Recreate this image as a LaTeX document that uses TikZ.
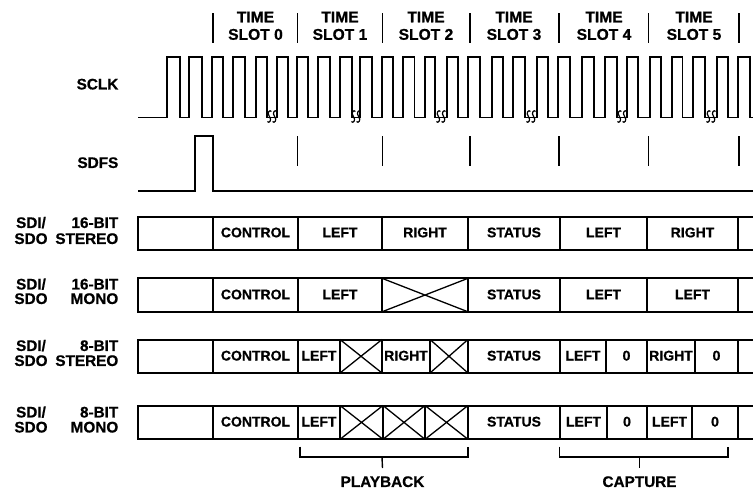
\documentclass[tikz,border=0pt]{standalone}
\usepackage{fontspec}
\setmainfont{Liberation Sans}[BoldFeatures={FakeBold=0.7}]
\begin{document}
\begin{tikzpicture}[x=1pt,y=-1pt,
  wave/.style={line width=1.8pt,line join=miter},
  frame/.style={line width=2pt,line join=miter},
  cross/.style={line width=1.3pt},
  tickln/.style={line width=1.5pt},
  brk/.style={line width=1.2pt},
  brace/.style={line width=1.4pt},
  lbl/.style={font=\fontsize{15.3}{17}\selectfont\bfseries,inner sep=0pt,text height=10.9pt,text depth=0pt},
  hdr/.style={font=\fontsize{15.6}{17}\selectfont\bfseries,inner sep=0pt,text height=11.2pt,text depth=0pt},
  boxtxt/.style={font=\fontsize{14}{16}\selectfont\bfseries,inner sep=0pt,text height=10pt,text depth=0pt},
  brkmark/.pic={
    \foreach \d in {-2.6,2.6}{
      \draw[brk] (\d+2,-5) .. controls (\d+0.5,-7.5) and (\d-3,-3.5) .. (\d,0)
                 .. controls (\d+3,3.5) and (\d-0.5,7.5) .. (\d-2,5);
    }
  }]
\useasboundingbox (0,0) rectangle (753,491);

% ---------- header ----------
\foreach \x in {213,297.5,382.5,470,559,648.5,739}
  \draw[tickln] (\x,13) -- (\x,43);
\foreach \i/\c in {0/255.5,1/340,2/426,3/514,4/604,5/694}{
  \node[hdr] (time\i) at (\c,16.7) {TIME};
  \node[hdr] (slot\i) at (\c,34.2) {SLOT \i};
}

% ---------- SCLK ----------
\node[lbl,anchor=east] (sclk) at (118.5,84) {SCLK};
\draw[wave] (138,117.5)
  \foreach \r/\f in {166.7/180,189.3/201.7,211.7/223.3,233.3/245,256/266.7,
                     276.7/288,296.7/308,318.3/330,340/351.7,360/371.7,
                     381.7/393.3,403.3/414.5,425/435,446.7/458.3,468.3/480,
                     491.7/503.3,513.3/525,536.7/548.3,558.3/570,581.7/594,
                     605/616.7,626.7/638.3,650/661,671.7/682.5,693.3/705,
                     716.7/728.3,738.3/750}
  { -- (\r,117.5) -- (\r,57) -- (\f,57) -- (\f,117.5) }
  -- (753,117.5);
\foreach \x in {272,356,441,531,622,711}
  \pic at (\x,116.5) {brkmark};

% ---------- SDFS ----------
\node[lbl,anchor=east] (sdfs) at (118.5,162.5) {SDFS};
\draw[wave] (138,191) -- (195,191) -- (195,136) -- (213,136) -- (213,191) -- (753,191);
\foreach \x in {297.5,382.5,470,559,648.5,739}
  \draw[tickln] (\x,136) -- (\x,166);

% ---------- row 1 : 16-bit stereo ----------
\node[lbl] (sdiA) at (31,222.5) {SDI/};
\node[lbl] (sdoA) at (31,238.5) {SDO};
\node[lbl,anchor=east] (bitA) at (118.5,222.5) {16-BIT};
\node[lbl,anchor=east] (modeA) at (118.5,238.5) {STEREO};
\draw[frame] (753,216.5) -- (138,216.5) -- (138,250) -- (753,250);
\foreach \x in {213,298,382,468,560,647,738}
  \draw[frame] (\x,216.5) -- (\x,250);
\foreach \n/\a/\b/\t in {a2/213/298/CONTROL,a3/298/382/LEFT,a4/382/468/RIGHT,
                         a5/468/560/STATUS,a6/560/647/LEFT,a7/647/738/RIGHT}
  \node[boxtxt] (\n) at ({(\a+\b)/2},232.3) {\t};

% ---------- row 2 : 16-bit mono ----------
\node[lbl] (sdiB) at (31,284) {SDI/};
\node[lbl] (sdoB) at (31,298.5) {SDO};
\node[lbl,anchor=east] (bitB) at (118.5,284) {16-BIT};
\node[lbl,anchor=east] (modeB) at (118.5,298.5) {MONO};
\draw[frame] (753,278.3) -- (138,278.3) -- (138,311.8) -- (753,311.8);
\foreach \x in {213,298,382,468,560,647,738}
  \draw[frame] (\x,278.3) -- (\x,311.8);
\draw[cross] (382,278.3) -- (468,311.8) (382,311.8) -- (468,278.3);
\foreach \n/\a/\b/\t in {b2/213/298/CONTROL,b3/298/382/LEFT,
                         b5/468/560/STATUS,b6/560/647/LEFT,b7/647/738/LEFT}
  \node[boxtxt] (\n) at ({(\a+\b)/2},294.3) {\t};

% ---------- row 3 : 8-bit stereo ----------
\node[lbl] (sdiC) at (31,345.5) {SDI/};
\node[lbl] (sdoC) at (31,360.5) {SDO};
\node[lbl,anchor=east] (bitC) at (118.5,345.5) {8-BIT};
\node[lbl,anchor=east] (modeC) at (118.5,360.5) {STEREO};
\draw[frame] (753,339.5) -- (138,339.5) -- (138,373) -- (753,373);
\foreach \x in {213,298,340,382,430,468,560,606,647,695,738}
  \draw[frame] (\x,339.5) -- (\x,373);
\draw[cross] (340,339.5) -- (382,373) (340,373) -- (382,339.5);
\draw[cross] (430,339.5) -- (468,373) (430,373) -- (468,339.5);
\foreach \n/\a/\b/\t in {c2/213/298/CONTROL,c3/298/340/LEFT,c4/382/430/RIGHT,
                         c5/468/560/STATUS,c6/560/606/LEFT,c7/606/647/0,
                         c8/647/695/RIGHT,c9/695/738/0}
  \node[boxtxt] (\n) at ({(\a+\b)/2},355.5) {\t};

% ---------- row 4 : 8-bit mono ----------
\node[lbl] (sdiD) at (31,412) {SDI/};
\node[lbl] (sdoD) at (31,427) {SDO};
\node[lbl,anchor=east] (bitD) at (118.5,412) {8-BIT};
\node[lbl,anchor=east] (modeD) at (118.5,427) {MONO};
\draw[frame] (753,405.5) -- (138,405.5) -- (138,439.3) -- (753,439.3);
\foreach \x in {213,298,340,383,425,468,560,607,647,692,738}
  \draw[frame] (\x,405.5) -- (\x,439.3);
\foreach \a/\b in {340/383,383/425,425/468}
  \draw[cross] (\a,405.5) -- (\b,439.3) (\a,439.3) -- (\b,405.5);
\foreach \n/\a/\b/\t in {d2/213/298/CONTROL,d3/298/340/LEFT,
                         d5/468/560/STATUS,d6/560/607/LEFT,d7/607/647/0,
                         d8/647/692/LEFT,d9/692/738/0}
  \node[boxtxt] (\n) at ({(\a+\b)/2},421.5) {\t};

% ---------- brackets ----------
\coordinate (pbL) at (300,446.5);
\coordinate (pbR) at (468,446.5);
\coordinate (pbM) at (382,457);
\node[lbl] (playback) at (382.5,481.5) {PLAYBACK};
\draw[brace] (pbL) |- (pbR |- pbM) -- (pbR);
\draw[brace] (pbM) -- (playback.north |- 0,468);

\coordinate (cpL) at (559.5,446.5);
\coordinate (cpR) at (728,446.5);
\coordinate (cpM) at (639.5,457);
\node[lbl] (capture) at (639.5,481.5) {CAPTURE};
\draw[brace] (cpL) |- (cpR |- cpM) -- (cpR);
\draw[brace] (cpM) -- (capture.north |- 0,468);
\end{tikzpicture}
\end{document}
